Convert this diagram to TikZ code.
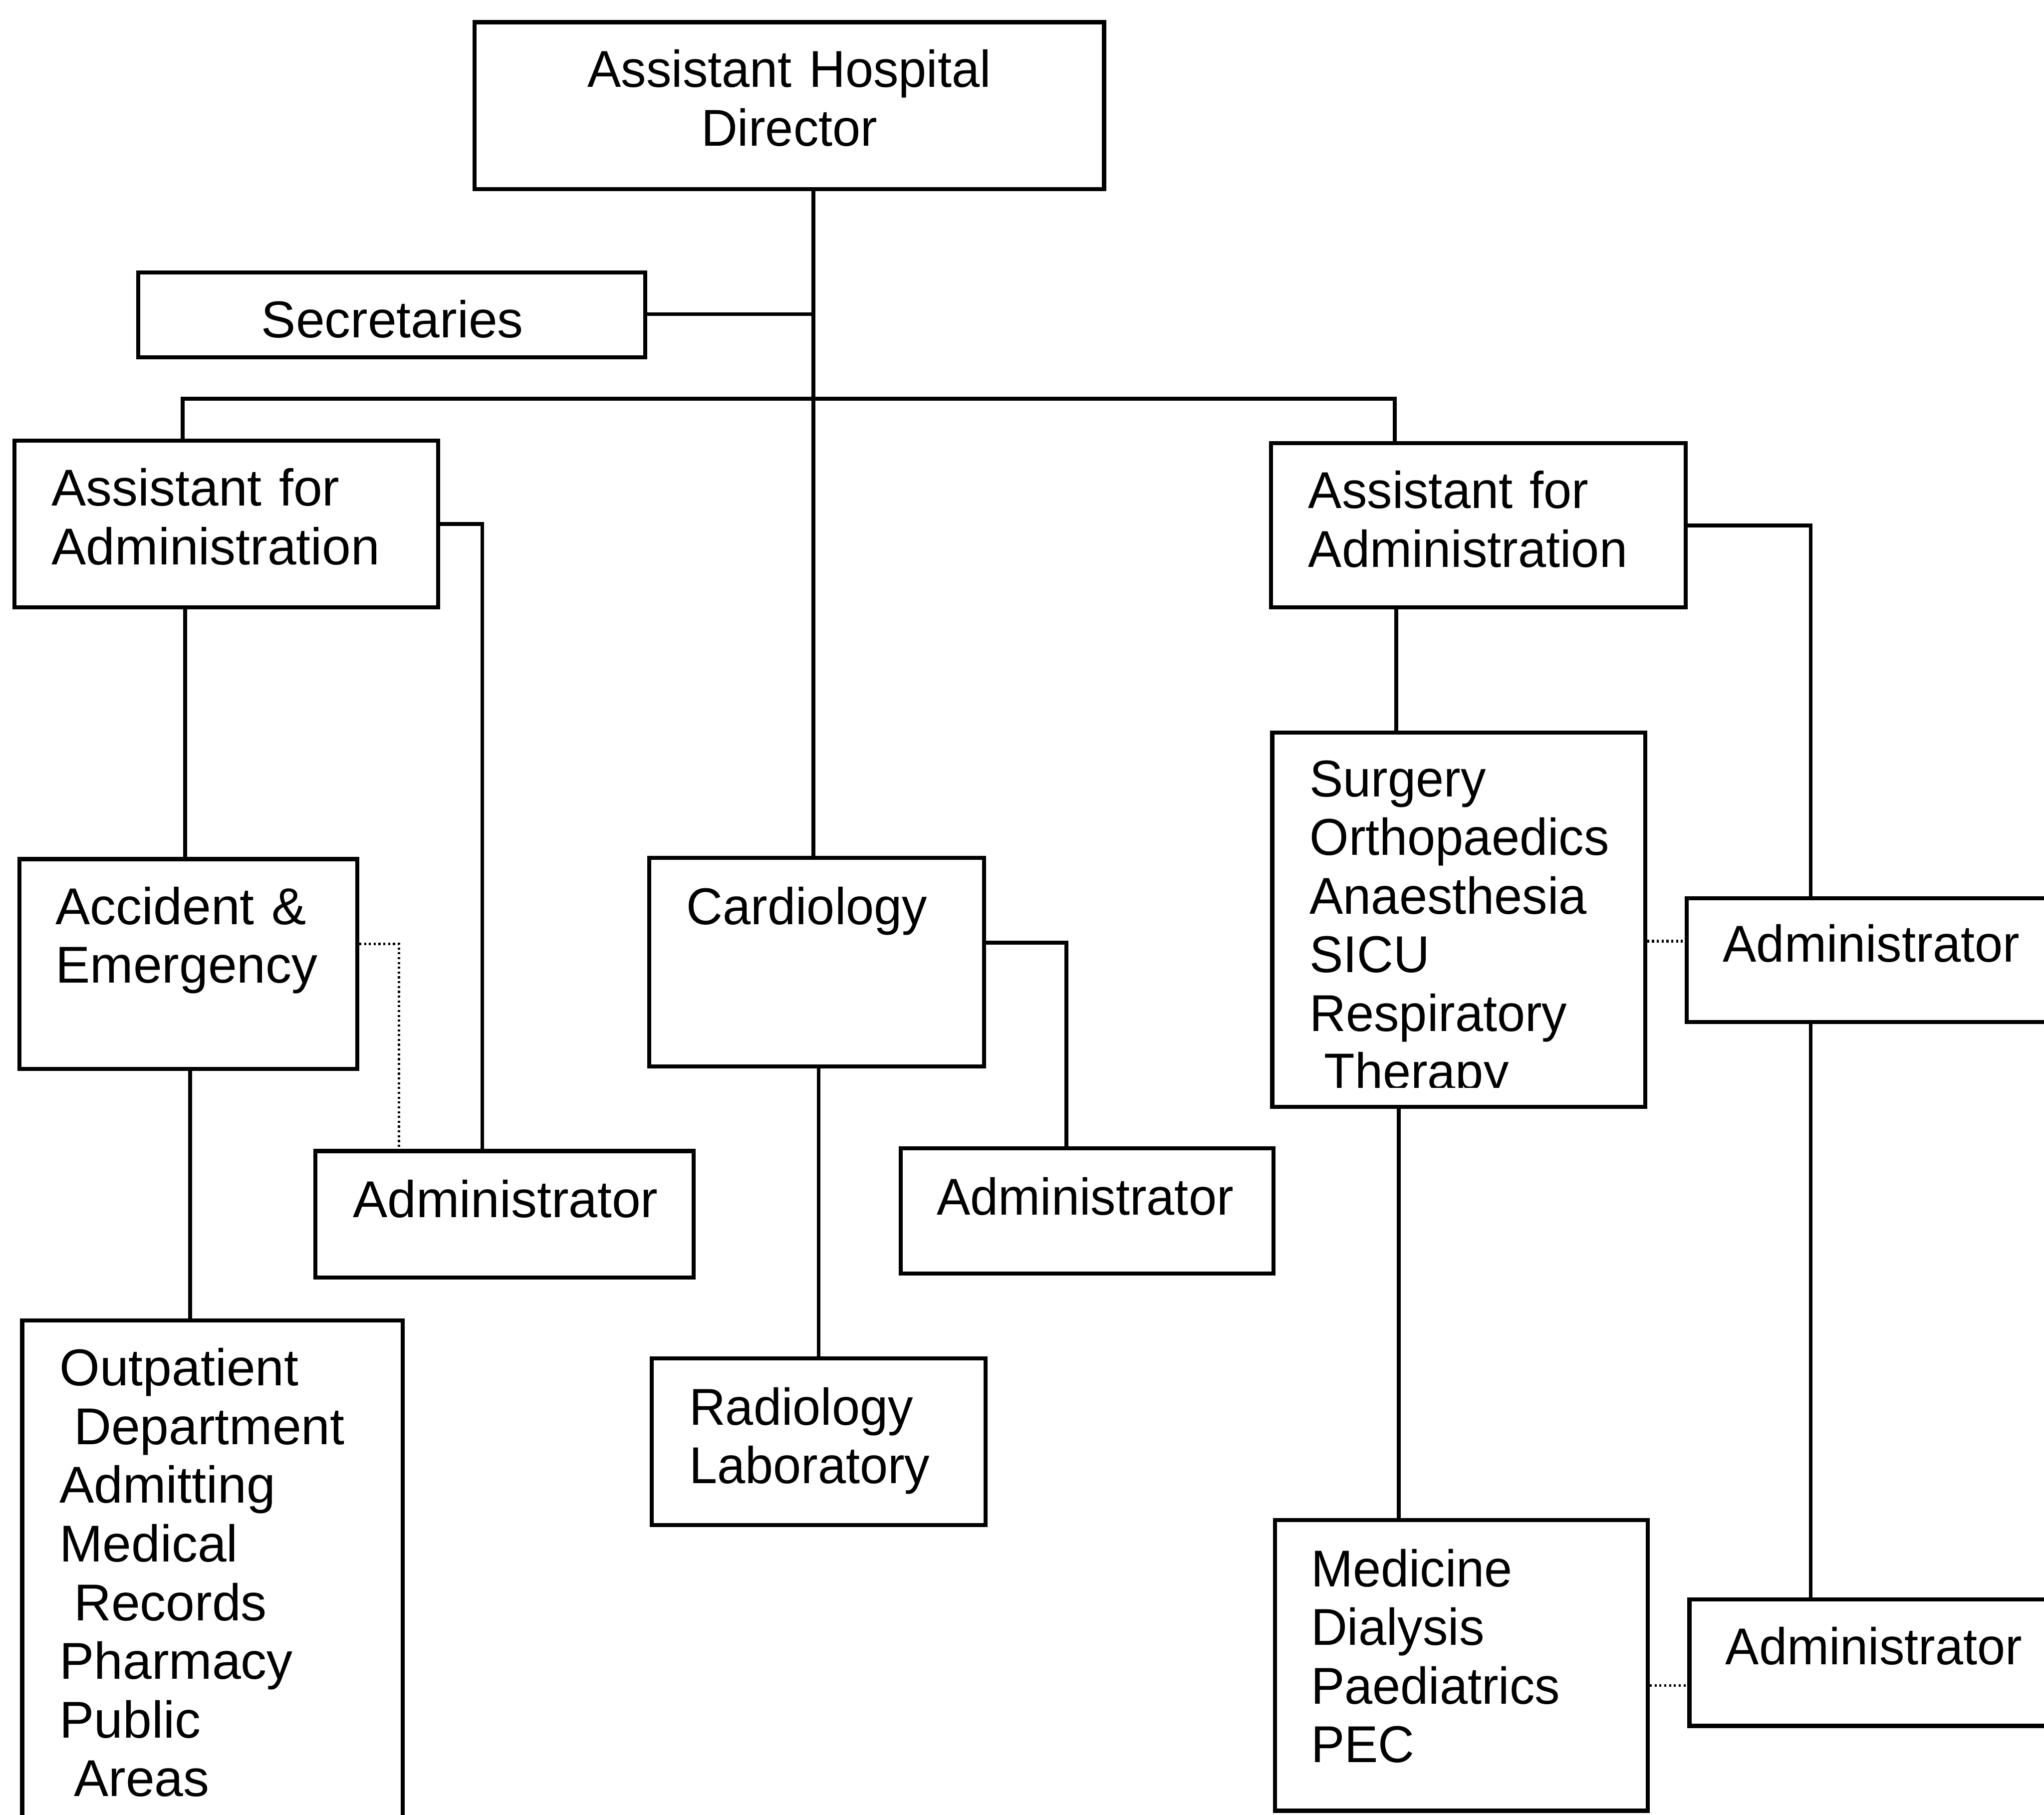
\documentclass[tikz,border=0pt]{standalone}
\usepackage{fontspec}
\usetikzlibrary{fit}
\newfontfamily\chartfont{Liberation Sans}
\newfontfamily\chartfontnarrow[FakeStretch=0.972]{Liberation Sans}
\newcommand\indentsp{\hspace*{0.278em}}

\begin{document}
\begin{tikzpicture}[x=0.01cm, y=-0.01cm,
  box/.style={draw, line width=0.9pt, inner sep=0pt, fit={#1}},
  txt/.style={inner sep=0pt, align=left, text width=#1,
    font={\chartfont\fontsize{11.3pt}{12.8pt}\selectfont}},
  txt/.default=3.2cm,
  ntxt/.style={txt=#1,
    font={\chartfontnarrow\fontsize{11.3pt}{12.8pt}\selectfont}},
  ntxt/.default=3.2cm,
  conn/.style={line width=0.85pt},
  link/.style={line width=0.55pt, dash pattern=on 0.45pt off 0.6pt}]

\clip (0,0) rectangle (1568,1392);
\fill[white] (0,0) rectangle (1568,1392);

% boxes
\node[box={(364,17) (847,145)}]   (dir)   {};
\node[box={(106,209) (495,274)}]  (sec)   {};
\node[box={(11,338) (336,466)}]   (aaL)   {};
\node[box={(975,340) (1293,466)}] (aaR)   {};
\node[box={(15,659) (274,820)}]   (acc)   {};
\node[box={(242,883) (532,980)}]  (admL)  {};
\node[box={(17,1013) (309,1400)}] (opd)   {};
\node[box={(498,658) (755,818)}]  (card)  {};
\node[box={(691,881) (977,977)}]  (admC)  {};
\node[box={(500,1042) (756,1170)}] (rad)  {};
\node[box={(976,562) (1262,849)}] (surg)  {};
\node[box={(1294,689) (1580,784)}] (admRa) {};
\node[box={(978,1166) (1264,1389)}] (med) {};
\node[box={(1296,1227) (1580,1324)}] (admRb) {};

% labels
\node[ntxt=4.6cm, align=center, anchor=base] (dirT) at (605.5,67)
  {Assistant Hospital\\Director};
\node[txt=3.8cm, align=center, anchor=base] (secT) at (301,259) {Secretaries};
\node[txt, anchor=base west] (aaLT) at (39,388) {Assistant for\\Administration};
\node[ntxt, anchor=base west] (aaRT) at (1003,390) {Assistant for\\Administration};
\node[txt, anchor=base west] (accT) at (42,709) {Accident \&\\Emergency};
\node[txt, anchor=base west] (admLT) at (270,934) {Administrator};
\node[txt, anchor=base west] (opdT) at (45,1063)
  {Outpatient\\\indentsp Department\\Admitting\\Medical\\\indentsp Records\\Pharmacy\\Public\\\indentsp Areas};
\node[ntxt, anchor=base west] (cardT) at (526,709) {Cardiology};
\node[ntxt, anchor=base west] (admCT) at (718,932) {Administrator};
\node[ntxt, anchor=base west] (radT) at (528,1093) {Radiology\\Laboratory};
\begin{scope}
  \clip (976,562) rectangle (1262,834.5);
  \node[ntxt, anchor=base west] (surgT) at (1004,611)
    {Surgery\\Orthopaedics\\Anaesthesia\\SICU\\Respiratory\\\indentsp Therapy};
\end{scope}
\node[ntxt, anchor=base west] (admRaT) at (1321,738) {Administrator};
\node[ntxt, anchor=base west] (medT) at (1005,1217) {Medicine\\Dialysis\\Paediatrics\\PEC};
\node[ntxt, anchor=base west] (admRbT) at (1323,1277) {Administrator};

% routing points
\coordinate (trunk) at (624,241);
\coordinate (bus) at (624,306);
\coordinate (busL) at (140,306);
\coordinate (busR) at (1070,306);
\coordinate (xAcc) at (142,0);
\coordinate (xOpd) at (146,0);
\coordinate (jL) at (370,402);
\coordinate (dL) at (306,724);
\coordinate (xRad) at (628,0);
\coordinate (jC) at (818,723);
\coordinate (xSurg) at (1071,0);
\coordinate (xMed) at (1073,0);
\coordinate (jR) at (1389,403);
\coordinate (dRa) at (1278,722);
\coordinate (dRb) at (1280,1293);

% solid connectors
\draw[conn] (trunk |- dir.south) -- (trunk |- card.north);
\draw[conn] (sec.east |- trunk) -- (trunk);
\draw[conn] (busL |- aaL.north) -- (busL) -- (busR) -- (busR |- aaR.north);
\draw[conn] (aaL.east) -| (jL |- admL.north);
\draw[conn] (xAcc |- aaL.south) -- (xAcc |- acc.north);
\draw[conn] (xOpd |- acc.south) -- (xOpd |- opd.north);
\draw[conn] (card.east |- jC) -| (jC |- admC.north);
\draw[conn] (xRad |- card.south) -- (xRad |- rad.north);
\draw[conn] (xSurg |- aaR.south) -- (xSurg |- surg.north);
\draw[conn] (aaR.east |- jR) -| (jR |- admRa.north);
\draw[conn] (jR |- admRa.south) -- (jR |- admRb.north);
\draw[conn] (xMed |- surg.south) -- (xMed |- med.north);

% dotted links
\draw[link] (acc.east |- dL) -| (dL |- admL.north);
\draw[link] (surg.east |- dRa) -- (admRa.west |- dRa);
\draw[link] (med.east |- dRb) -- (admRb.west |- dRb);
\end{tikzpicture}
\end{document}
